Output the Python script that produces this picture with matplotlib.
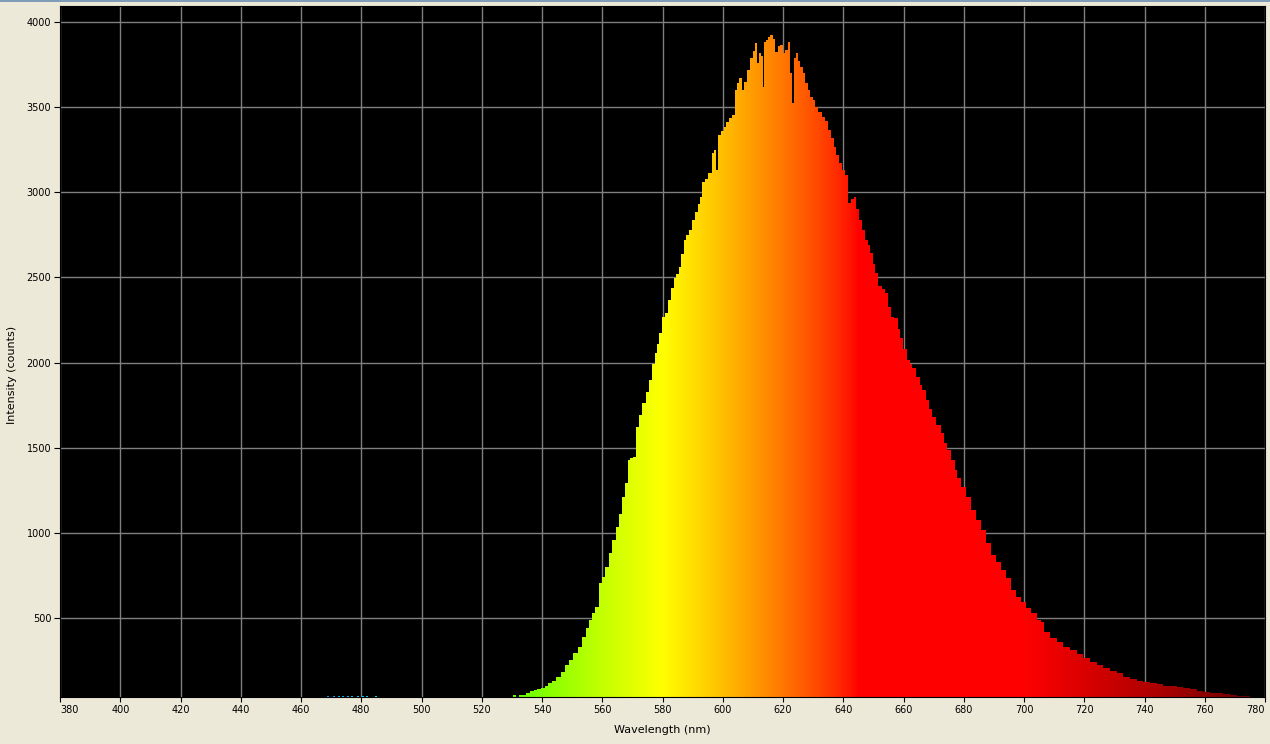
import numpy as np
import matplotlib
matplotlib.use("Agg")
import matplotlib.pyplot as plt
from matplotlib.patches import Rectangle

# spectrum (nm, counts)
wavelength = [530.0, 531.0, 531.6, 533.0, 534.0, 535.5, 536.7, 538.0, 539.0, 540.2,
              541.5, 542.8, 544.0, 545.5, 547.0, 548.3, 549.5, 551.1, 552.5, 553.9,
              555.0, 556.1, 557.2, 558.3, 559.4, 560.5, 561.6, 562.7, 563.8, 565.0,
              566.0, 567.1, 568.0, 568.8, 569.7, 570.5, 571.6, 572.7, 573.8, 575.0,
              576.0, 577.0, 577.7, 578.5, 579.3, 580.4, 581.4, 582.5, 583.3, 584.1,
              585.0, 585.8, 586.6, 587.5, 588.3, 589.1, 590.2, 591.3, 592.2, 593.0,
              593.5, 594.6, 595.8, 596.9, 597.5, 598.0, 599.1, 600.0, 600.7, 601.5,
              602.4, 603.5, 604.4, 605.0, 605.7, 606.8, 607.5, 608.5, 609.6, 610.3,
              611.0, 611.6, 612.4, 613.0, 613.5, 614.0, 614.6, 615.5, 616.2, 617.0,
              617.9, 618.6, 619.6, 620.4, 621.2, 622.1, 622.8, 623.4, 624.0, 624.5,
              625.3, 626.2, 627.0, 627.9, 628.7, 629.5, 630.3, 631.2, 632.3, 633.4,
              634.5, 635.6, 636.5, 637.3, 638.1, 638.9, 640.0, 641.1, 642.2, 643.0,
              643.9, 644.8, 645.6, 646.7, 647.8, 648.6, 649.4, 650.3, 651.1, 652.2,
              653.3, 654.4, 655.5, 656.1, 657.7, 658.5, 659.4, 660.5, 661.6, 662.5,
              663.3, 664.9, 665.8, 666.6, 668.2, 669.0, 669.9, 671.5, 673.2, 674.0,
              674.9, 676.5, 677.4, 678.2, 679.8, 681.5, 683.2, 684.8, 686.5, 688.1,
              689.8, 691.5, 693.1, 694.8, 696.4, 698.1, 699.8, 701.4, 703.1, 705.3,
              705.9, 707.5, 709.7, 711.9, 714.2, 716.4, 718.6, 720.8, 723.0, 725.2,
              727.4, 729.6, 731.9, 734.1, 736.3, 738.5, 740.7, 742.9, 745.1, 747.4,
              749.6, 751.8, 754.0, 756.2, 758.4, 760.6, 762.8, 765.1, 767.3, 769.5,
              771.7, 773.9, 776.1, 778.0, 780.0]
counts = [36, 47, 36, 45, 50, 62, 73, 78, 82, 87,
          100, 116, 130, 155, 185, 224, 255, 293, 330, 390,
          440, 488, 530, 566, 704, 740, 801, 880, 958, 1036,
          1110, 1212, 1290, 1428, 1440, 1447, 1623, 1690, 1760, 1830,
          1897, 1990, 2054, 2110, 2171, 2269, 2289, 2367, 2440, 2495,
          2520, 2563, 2640, 2720, 2750, 2779, 2837, 2886, 2930, 2974,
          3062, 3080, 3111, 3229, 3250, 3131, 3336, 3360, 3385, 3410,
          3434, 3454, 3601, 3640, 3669, 3601, 3650, 3718, 3787, 3830,
          3875, 3760, 3816, 3800, 3620, 3880, 3894, 3910, 3924, 3900,
          3826, 3860, 3865, 3820, 3836, 3885, 3700, 3523, 3790, 3816,
          3770, 3738, 3700, 3640, 3600, 3562, 3540, 3503, 3470, 3444,
          3420, 3366, 3320, 3268, 3220, 3170, 3130, 3101, 2935, 2960,
          2974, 2900, 2837, 2780, 2720, 2690, 2641, 2580, 2524, 2450,
          2430, 2406, 2328, 2269, 2260, 2200, 2142, 2080, 2015, 1990,
          1966, 1917, 1870, 1839, 1780, 1730, 1682, 1633, 1584, 1530,
          1486, 1428, 1370, 1320, 1271, 1212, 1134, 1075, 1017, 938,
          870, 830, 782, 733, 664, 625, 596, 557, 527, 488,
          475, 419, 385, 361, 331, 312, 288, 263, 240, 224,
          204, 189, 175, 152, 142, 130, 126, 116, 112, 102,
          99, 93, 87, 81, 73, 67, 61, 58, 52, 48,
          42, 42, 38, 37, 36]

# few stray counts in the blue
noise_wl = [469, 471, 472.5, 474, 475.5, 477, 479, 480.5, 482, 485]
noise_counts = [43, 42, 43, 44, 43, 42, 43, 44, 42, 43]

x_ticks = list(range(380, 781, 20))
y_ticks = [500, 1000, 1500, 2000, 2500, 3000, 3500, 4000]
y_min, y_max = 36, 4094


def wl_to_rgb(w, gamma=0.8):
    w = np.asarray(w, dtype=float)
    r = np.zeros_like(w); g = np.zeros_like(w); b = np.zeros_like(w)
    m = (w >= 380) & (w < 440); r[m] = -(w[m] - 440) / 60; b[m] = 1
    m = (w >= 440) & (w < 490); g[m] = (w[m] - 440) / 50; b[m] = 1
    m = (w >= 490) & (w < 510); g[m] = 1; b[m] = -(w[m] - 510) / 20
    m = (w >= 510) & (w < 580); r[m] = (w[m] - 510) / 70; g[m] = 1
    m = (w >= 580) & (w < 645); r[m] = 1; g[m] = -(w[m] - 645) / 65
    m = (w >= 645) & (w <= 781); r[m] = 1
    f = np.ones_like(w)
    m = w < 420; f[m] = 0.3 + 0.7 * (w[m] - 380) / 40
    m = w > 700; f[m] = 0.3 + 0.7 * (780 - w[m]) / 80
    rgb = np.stack([r, g, b], axis=-1) * f[..., None]
    return np.clip(rgb, 0, 1) ** gamma


bg = '#ECE9D8'
fig = plt.figure(figsize=(12.7, 7.44), dpi=100, facecolor=bg)
ax = fig.add_axes([60/1270, 47/744, 1205/1270, 691/744])
ax.set_facecolor('black')

ax.set_xlim(380, 780)
ax.set_ylim(y_min, y_max)
ax.set_axisbelow(True)
ax.grid(True, color='#7f7f7f', linewidth=1.0)

# spectrum filled with the wavelength colours (stepped like the detector bins)
poly = ax.fill_between(wavelength, y_min, counts, step='mid',
                       facecolor='none', edgecolor='none')
grad_x = np.linspace(380, 780, 1601)
grad = wl_to_rgb(grad_x)[None, :, :]
im = ax.imshow(grad, extent=[380, 780, y_min, y_max], aspect='auto',
               interpolation='bilinear', zorder=2)
im.set_clip_path(poly.get_paths()[0], transform=ax.transData)

ax.bar(noise_wl, np.array(noise_counts) - y_min, bottom=y_min, width=0.6,
       color=wl_to_rgb(noise_wl), zorder=2)

ax.set_xticks(x_ticks)
ax.set_yticks(y_ticks)
ax.tick_params(axis='both', labelsize=7, color='black', width=0.8, labelcolor='black')
ax.tick_params(axis='y', length=4.3, pad=2)
ax.tick_params(axis='x', length=3.6, pad=2.5)
labels = ax.get_xticklabels()
labels[0].set_horizontalalignment('left')
labels[-1].set_horizontalalignment('right')
for s in ax.spines.values():
    s.set_color('black')
    s.set_linewidth(0.8)

fig.text(662/1270, 1 - 730/744, 'Wavelength (nm)', ha='center', va='center', fontsize=8)
fig.text(12/1270, 1 - 375/744, 'Intensity (counts)', ha='center', va='center',
         fontsize=8, rotation=90)

fig.patches.append(Rectangle((0, 1 - 2/744), 1, 2/744, transform=fig.transFigure,
                             facecolor='#7f9db9', edgecolor='none'))

fig.savefig('out.png', dpi=100, facecolor=bg)
